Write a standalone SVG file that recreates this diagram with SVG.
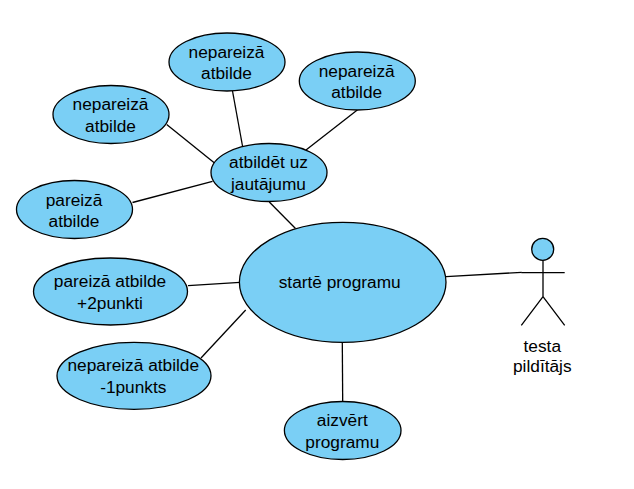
<svg xmlns="http://www.w3.org/2000/svg" width="634" height="489" viewBox="0 0 634 489">
<style>
.n{fill:#7acff5;stroke:#000;stroke-width:1.3}
.l{fill:none;stroke:#000;stroke-width:1.3}
text{font-family:"Liberation Sans",Arial,sans-serif;font-size:17.3px;fill:#000;text-anchor:middle}
</style>
<rect width="634" height="489" fill="#fff"/>
<g id="connectors">
<path class="l" d="M232.5 91L242.5 146"/>
<path class="l" d="M357.3 110L306 150"/>
<path class="l" d="M166.7 124.5L214.5 163"/>
<path class="l" d="M132.5 202.5L212.5 181.3"/>
<path class="l" d="M269.3 202L295.5 228.5"/>
<path class="l" d="M188 285.7L240 282.3"/>
<path class="l" d="M245.7 310L201 358"/>
<path class="l" d="M342.3 342L342.7 402"/>
<path class="l" d="M446 276.7L521.7 272.3"/>
</g>
<g id="n1"><ellipse class="n" cx="227" cy="62" rx="58" ry="29"/><text x="226.5" y="58">nepareizā</text><text x="226.5" y="79">atbilde</text></g>
<g id="n2"><ellipse class="n" cx="357.3" cy="81" rx="58" ry="29"/><text x="356.7" y="76.5">nepareizā</text><text x="356.7" y="98">atbilde</text></g>
<g id="n3"><ellipse class="n" cx="111" cy="114.5" rx="58" ry="29"/><text x="110.5" y="110">nepareizā</text><text x="110.5" y="132">atbilde</text></g>
<g id="n4"><ellipse class="n" cx="74.5" cy="209.5" rx="58" ry="29"/><text x="74" y="206">pareizā</text><text x="74" y="227">atbilde</text></g>
<g id="n5"><ellipse class="n" cx="269" cy="172.5" rx="58" ry="29"/><text x="268.5" y="168">atbildēt uz</text><text x="268.5" y="190">jautājumu</text></g>
<g id="n6"><ellipse class="n" cx="342.7" cy="282.3" rx="103.3" ry="60"/><text x="339.7" y="288">startē programu</text></g>
<g id="n7"><ellipse class="n" cx="110.5" cy="291.5" rx="77" ry="33.5"/><text x="110" y="287">pareizā atbilde</text><text x="110" y="309">+2punkti</text></g>
<g id="n8"><ellipse class="n" cx="134" cy="375.8" rx="77" ry="33.5"/><text x="133.3" y="371">nepareizā atbilde</text><text x="133.3" y="393">-1punkts</text></g>
<g id="n9"><ellipse class="n" cx="342.7" cy="430.5" rx="58.3" ry="29"/><text x="342.3" y="426">aizvērt</text><text x="342.3" y="448">programu</text></g>
<g id="actor"><circle class="n" cx="542.7" cy="249.3" r="11"/><path class="l" d="M543 260.5V296.7M521.3 272.7H564.7M543 296.7L521.3 325.3M543 296.7L564.7 325.3"/><text x="542.3" y="352">testa</text><text x="542.3" y="372">pildītājs</text></g>
</svg>
